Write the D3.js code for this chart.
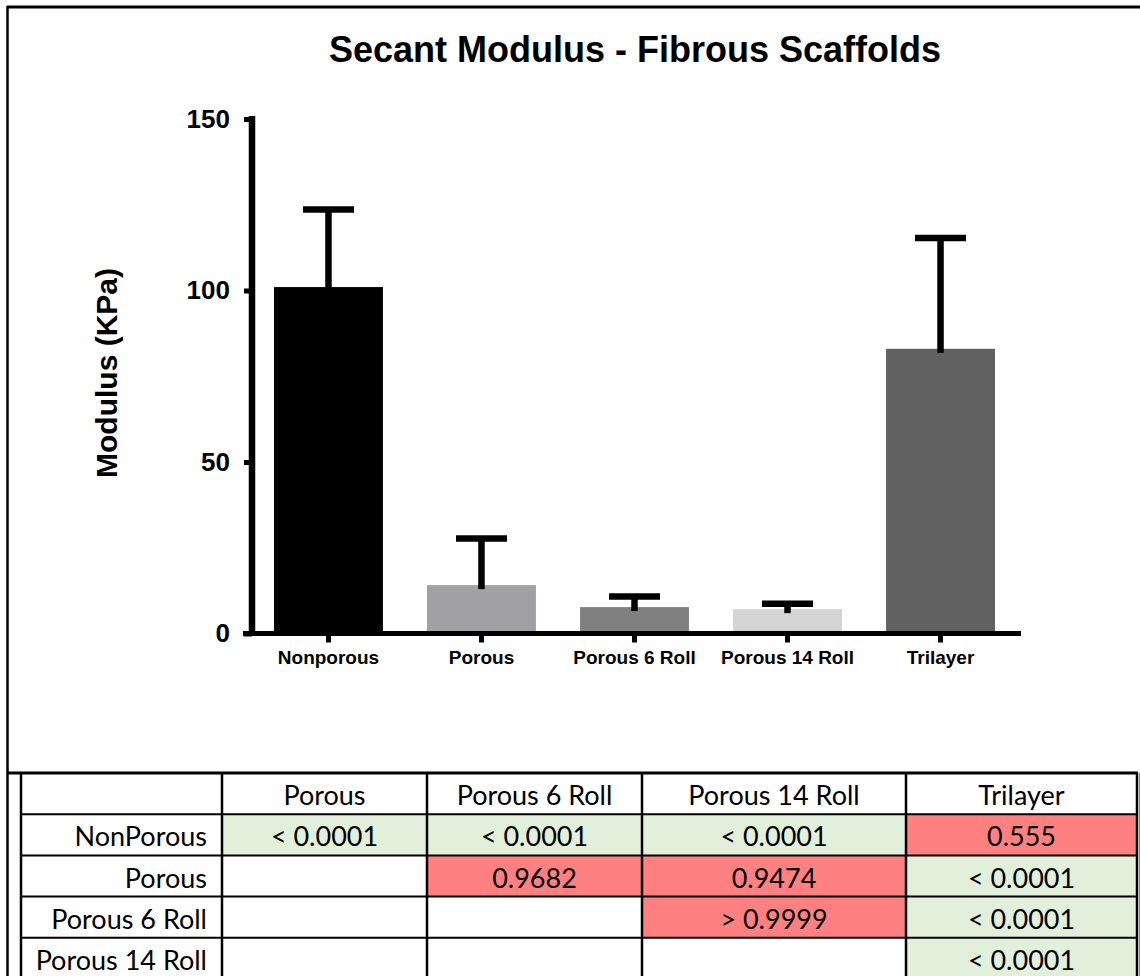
<!DOCTYPE html>
<html>
<head>
<meta charset="utf-8">
<script src="https://cdn.jsdelivr.net/npm/d3@7"></script>
<style>
  body { margin: 0; background: #fff; overflow: hidden; }
  svg { display: block; }
</style>
</head>
<body>
<div id="chart"></div>
<script>
// bar chart data
const categories = ["Nonporous", "Porous", "Porous 6 Roll", "Porous 14 Roll", "Trilayer"];
const means = [101.0, 14.1, 7.7, 7.1, 83.0];
const sds = [22.6, 13.6, 3.1, 1.6, 32.3];
const barColors = ["#000000", "#a1a0a5", "#808080", "#d4d4d4", "#616161"];
const yTicks = [0, 50, 100, 150];

// p-value table
const colHeaders = ["Porous", "Porous 6 Roll", "Porous 14 Roll", "Trilayer"];
const rowHeaders = ["NonPorous", "Porous", "Porous 6 Roll", "Porous 14 Roll"];
const pValues = [
    ["< 0.0001", "< 0.0001", "< 0.0001", "0.555"],
    ["", "0.9682", "0.9474", "< 0.0001"],
    ["", "", "> 0.9999", "< 0.0001"],
    ["", "", "", "< 0.0001"]
];

let width = 1140, height = 976;
let svg = d3.select("#chart").append("svg")
    .attr("width", width)
    .attr("height", height);

// outer frame
svg.append("line").attr("x1", 7).attr("x2", width).attr("y1", 7).attr("y2", 7)
    .attr("stroke", "#000").attr("stroke-width", 3);
svg.append("line").attr("x1", 7.5).attr("x2", 7.5).attr("y1", 6).attr("y2", height)
    .attr("stroke", "#000").attr("stroke-width", 2.5);

const font = "'Liberation Sans', Arial, sans-serif";
const tableFont = "Lato, sans-serif";

svg.append("text")
    .attr("x", 635).attr("y", 62)
    .attr("text-anchor", "middle")
    .style("font-family", font).style("font-weight", "bold").style("font-size", "36px")
    .text("Secant Modulus - Fibrous Scaffolds");

let x = d3.scaleBand().domain(categories).range([274, 995]).paddingInner(0.288);
let y = d3.scaleLinear().domain([0, 150]).range([633.5, 119]);

let g = svg.append("g").attr("class", "plot");

// bars
g.selectAll("rect.bar")
    .data(categories).enter()
    .append("rect").attr("class", "bar")
    .attr("x", d => x(d))
    .attr("width", x.bandwidth())
    .attr("y", (d, i) => y(means[i]))
    .attr("height", (d, i) => y(0) - y(means[i]))
    .attr("fill", (d, i) => barColors[i]);

// error bars (upper only)
let eb = g.selectAll("g.err").data(categories).enter().append("g").attr("class", "err");
eb.append("line")
    .attr("x1", d => x(d) + x.bandwidth() / 2)
    .attr("x2", d => x(d) + x.bandwidth() / 2)
    .attr("y1", (d, i) => y(means[i]) + 4)
    .attr("y2", (d, i) => y(means[i] + sds[i]))
    .attr("stroke", "#000").attr("stroke-width", 6.5);
eb.append("line")
    .attr("x1", d => x(d) + x.bandwidth() / 2 - 25.5)
    .attr("x2", d => x(d) + x.bandwidth() / 2 + 25.5)
    .attr("y1", (d, i) => y(means[i] + sds[i]))
    .attr("y2", (d, i) => y(means[i] + sds[i]))
    .attr("stroke", "#000").attr("stroke-width", 6.5);

// y axis
let yAxis = g.append("g").attr("transform", "translate(252,0)")
    .call(d3.axisLeft(y).tickValues(yTicks).tickSize(8).tickPadding(14));
yAxis.select(".domain").attr("d", `M0,${y(150) - 3}V${y(0)}`).attr("stroke-width", 6.5);
yAxis.selectAll(".tick line").attr("stroke-width", 5);
yAxis.selectAll(".tick text")
    .style("font-family", font).style("font-weight", "bold").style("font-size", "26px")
    .attr("fill", "#000");

// x axis
let xAxis = g.append("g").attr("transform", `translate(0,${y(0)})`)
    .call(d3.axisBottom(x).tickSize(9).tickPadding(8));
xAxis.select(".domain").attr("d", "M243,0H1021").attr("stroke-width", 5);
xAxis.selectAll(".tick line").attr("stroke-width", 5);
xAxis.selectAll(".tick text")
    .style("font-family", font).style("font-weight", "bold").style("font-size", "19px")
    .attr("fill", "#000");

// y label
svg.append("text")
    .attr("transform", "translate(117,373) rotate(-90)")
    .attr("text-anchor", "middle")
    .style("font-family", font).style("font-weight", "bold").style("font-size", "30px")
    .text("Modulus (KPa)");

// ---- table ----
const colEdges = [21, 222, 427, 642, 906, 1137];
const rowTop = 773, rowH = 41.2;
let tbl = svg.append("g").attr("class", "table");
const green = "#e2efda", red = "#ff8080";

pValues.forEach(function (row, r) {
    row.forEach(function (v, c) {
        if (v === "") return;
        tbl.append("rect")
            .attr("x", colEdges[c + 1]).attr("y", rowTop + rowH * (r + 1))
            .attr("width", colEdges[c + 2] - colEdges[c + 1]).attr("height", rowH)
            .attr("fill", v.indexOf("<") === 0 ? green : red);
        tbl.append("text")
            .attr("x", (colEdges[c + 1] + colEdges[c + 2]) / 2)
            .attr("y", rowTop + rowH * (r + 2) - 9)
            .attr("text-anchor", "middle")
            .style("font-family", tableFont).style("font-size", "27px")
            .text(v);
    });
});

colHeaders.forEach(function (h, c) {
    tbl.append("text")
        .attr("x", (colEdges[c + 1] + colEdges[c + 2]) / 2)
        .attr("y", rowTop + rowH - 9)
        .attr("text-anchor", "middle")
        .style("font-family", tableFont).style("font-size", "27px")
        .text(h);
});
rowHeaders.forEach(function (h, r) {
    tbl.append("text")
        .attr("x", 207)
        .attr("y", rowTop + rowH * (r + 2) - 9)
        .attr("text-anchor", "end")
        .style("font-family", tableFont).style("font-size", "27px")
        .text(h);
});

// grid lines
for (let r = 0; r <= rowHeaders.length + 1; r++) {
    tbl.append("line")
        .attr("x1", r === 0 ? 7 : colEdges[0]).attr("x2", colEdges[5] + 1)
        .attr("y1", rowTop + rowH * r).attr("y2", rowTop + rowH * r)
        .attr("stroke", "#000").attr("stroke-width", r === 0 ? 3 : 2);
}
colEdges.forEach(function (cx) {
    tbl.append("line")
        .attr("x1", cx).attr("x2", cx)
        .attr("y1", rowTop).attr("y2", height)
        .attr("stroke", "#000").attr("stroke-width", 2.5);
});
svg.append("line").attr("x1", 1139.5).attr("x2", 1139.5).attr("y1", rowTop).attr("y2", height)
    .attr("stroke", "#888").attr("stroke-width", 1);
</script>
</body>
</html>
